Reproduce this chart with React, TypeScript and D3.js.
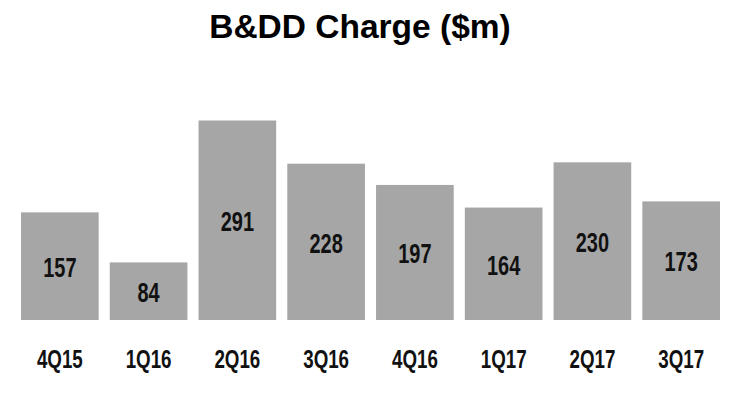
import React, { useEffect, useRef } from 'react';
import * as d3 from 'd3';

const categories = ['4Q15', '1Q16', '2Q16', '3Q16', '4Q16', '1Q17', '2Q17', '3Q17'];
const values = [157, 84, 291, 228, 197, 164, 230, 173];
const title = 'B&DD Charge ($m)';

const App = () => {
    const svgRef = useRef<SVGSVGElement>(null);

    useEffect(() => {
        const width = 741,
            height = 398;

        const svg = d3.select(svgRef.current).attr('width', width).attr('height', height);
        svg.selectAll('*').remove();

        const data = categories.map((c, i) => ({ cat: c, value: values[i] }));

        // Scales
        const x = d3.scaleBand().domain(categories).range([21, 720]).paddingInner(0.125).paddingOuter(0);
        const y = d3.scaleLinear().domain([0, 291]).range([320, 120.5]);

        // Title
        svg.append('text')
            .attr('x', 360)
            .attr('y', 38)
            .attr('text-anchor', 'middle')
            .style('font-family', '"Liberation Sans", Arial, sans-serif')
            .style('font-weight', 'bold')
            .style('font-size', '33.5px')
            .style('fill', '#000')
            .text(title);

        // Bars
        svg.selectAll('.bar')
            .data(data)
            .enter()
            .append('rect')
            .attr('class', 'bar')
            .attr('x', (d) => x(d.cat)!)
            .attr('y', (d) => y(d.value))
            .attr('width', x.bandwidth())
            .attr('height', (d) => y(0) - y(d.value))
            .attr('fill', '#a6a6a6');

        // Value labels, centred in each bar (narrow bold face, squeezed)
        svg.selectAll('.val')
            .data(data)
            .enter()
            .append('text')
            .attr('class', 'val')
            .attr('transform', (d) => {
                const cx = x(d.cat)! + x.bandwidth() / 2;
                const cy = (y(d.value) + y(0)) / 2;
                return `translate(${cx},${cy + 1}) scale(0.74,1)`;
            })
            .attr('dy', '0.36em')
            .attr('text-anchor', 'middle')
            .style('font-family', '"Liberation Sans", Arial, sans-serif')
            .style('font-weight', 'bold')
            .style('font-size', '27px')
            .style('fill', '#111')
            .text((d) => d.value);

        // Category labels
        const xAxis = svg.append('g')
            .attr('transform', 'translate(0,320)')
            .call(d3.axisBottom(x).tickSize(0).tickPadding(0));
        xAxis.select('.domain').remove();
        xAxis.selectAll('text')
            .attr('y', 0)
            .attr('dy', 0)
            .attr('transform', 'translate(0,48) scale(0.75,1)')
            .attr('text-anchor', 'middle')
            .style('font-family', '"Liberation Sans", Arial, sans-serif')
            .style('font-weight', 'bold')
            .style('font-size', '25px')
            .style('fill', '#111');
    }, []);

    return (
        <svg ref={svgRef} style={{ position: 'absolute', left: 0, top: 0, background: '#fff' }}></svg>
    );
};

export default App;
